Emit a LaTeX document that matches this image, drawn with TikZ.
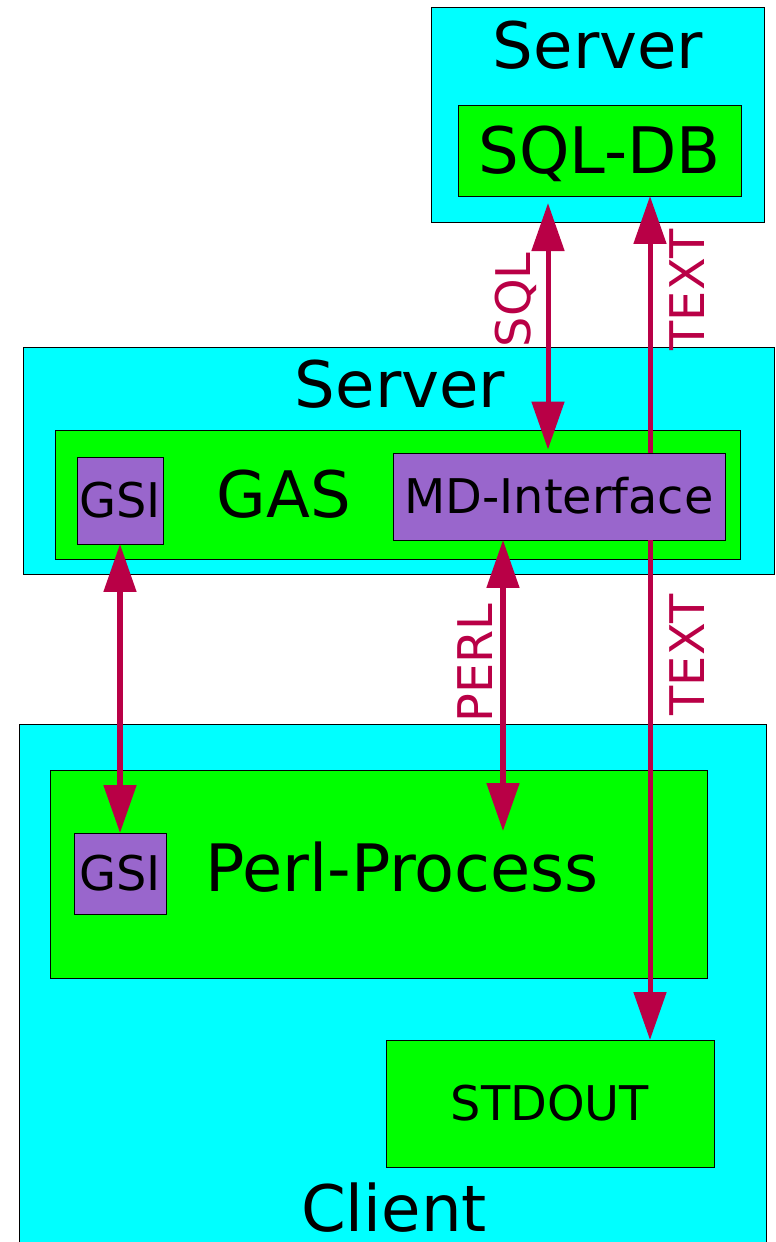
\documentclass[tikz,border=0pt]{standalone}
\usepackage{fontspec}
\setmainfont{DejaVu Sans}
\usepackage{tikz}
\usetikzlibrary{arrows.meta, positioning}
\definecolor{boxcyan}{RGB}{0, 255, 255}
\definecolor{boxgreen}{RGB}{0, 255, 0}
\definecolor{boxpurple}{RGB}{153, 102, 204}
\definecolor{linkred}{RGB}{185, 0, 70}

\begin{document}
\begin{tikzpicture}[
    x=0.02cm, y=-0.02cm,
    host/.style={draw=black, line width=0.5pt, fill=boxcyan, inner sep=0pt, outer sep=0pt},
    comp/.style={draw=black, line width=0.5pt, fill=boxgreen, inner sep=0pt, outer sep=0pt,
                 font=\fontsize{36.5}{40}\selectfont, text height=26.6pt, text depth=0pt},
    part/.style={draw=black, line width=0.5pt, fill=boxpurple, inner sep=0pt, outer sep=0pt,
                 font=\fontsize{27.2}{30}\selectfont, text height=19.8pt, text depth=0pt},
    title/.style={anchor=base, inner sep=0pt, font=\fontsize{36.5}{40}\selectfont},
    tag/.style={rotate=90, inner sep=0pt, text=linkred, font=\fontsize{27.2}{30}\selectfont,
                text height=19.8pt, text depth=0pt},
    link/.style={line width=2.85pt, linkred, {Triangle[length=0.96cm, width=0.64cm]}-{Triangle[length=0.96cm, width=0.64cm]}},
    flow/.style={line width=2.85pt, linkred, -{Triangle[length=0.96cm, width=0.64cm]}}
]
    \useasboundingbox (0,0) rectangle (776,1242);

    % database server
    \node[host, minimum width=6.66cm, minimum height=4.30cm] (dbhost) at (597.5,114.5) {};
    \node[title] (dbtitle) at (598,68) {Server};
    \node[comp, minimum width=5.66cm, minimum height=1.82cm] (sqldb) at (599.5,150.5) {SQL-DB};

    % GAS server
    \node[host, minimum width=15.04cm, minimum height=4.54cm] (gashost) at (399,460.5) {};
    \node[title] (gastitle) at (400,407) {Server};
    \node[comp, minimum width=13.72cm, minimum height=2.58cm] (gas) at (398,494.5) {};
    \node[title] (gaslabel) at (284,517) {GAS};
    \node[part, minimum width=1.72cm, minimum height=1.74cm] (gsiserver) at (120,500.5) {GSI};
    \node[part, minimum width=6.64cm, minimum height=1.74cm] (mdif) at (559,496.5) {MD-Interface};

    % client
    \node[host, minimum width=14.96cm, minimum height=10.52cm] (client) at (393,987) {};
    \node[title] (clienttitle) at (394,1231) {Client};
    \node[comp, minimum width=13.14cm, minimum height=4.16cm] (perl) at (378.5,874) {};
    \node[title, font=\fontsize{37.2}{40}\selectfont] (perllabel) at (402,891) {Perl-Process};
    \node[part, minimum width=1.84cm, minimum height=1.62cm] (gsiclient) at (120,873.5) {GSI};
    \node[comp, minimum width=6.56cm, minimum height=2.54cm,
          font=\fontsize{27.2}{30}\selectfont, text height=19.8pt] (stdout) at (550,1103.5) {STDOUT};

    \coordinate (sqlx) at (548,0);
    \coordinate (textx) at (650,0);
    \coordinate (perlx) at (503,0);
    \coordinate (perlin) at (503,831);

    \draw[link, shorten <=4pt, shorten >=2pt] (sqldb.south -| sqlx) -- (mdif.north -| sqlx);
    \draw[flow] (mdif.north -| textx) -- (sqldb.south -| textx);
    \draw[flow] (mdif.south -| textx) -- (stdout.north -| textx);
    \draw[link] (gsiserver.south) -- (gsiclient.north);
    \draw[link] (mdif.south -| perlx) -- (perlin);

    \node[tag] (sqltag) at (513.5,300) {SQL};
    \node[tag] (texttagup) at (687,290) {TEXT};
    \node[tag] (texttagdown) at (687,655) {TEXT};
    \node[tag] (perltag) at (475,663) {PERL};
\end{tikzpicture}
\end{document}
